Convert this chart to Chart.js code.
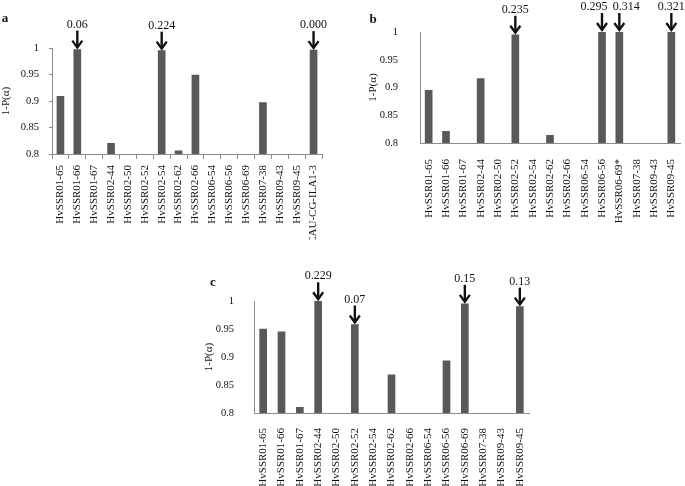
<!DOCTYPE html>
<html>
<head>
<meta charset="utf-8">
<script src="https://cdn.jsdelivr.net/npm/chart.js@4.4.0/dist/chart.umd.min.js"></script>
<style>
  html, body { margin: 0; padding: 0; background: #fff; overflow: hidden; }
  body { width: 685px; height: 486px; position: relative; }
  .panel { position: absolute; }
</style>
</head>
<body>
<div class="panel" style="left:0px;top:0px;width:335px;height:240px"><canvas id="chartA"></canvas></div>
<div class="panel" style="left:345px;top:0px;width:340px;height:240px"><canvas id="chartB"></canvas></div>
<div class="panel" style="left:180px;top:240px;width:360px;height:246px"><canvas id="chartC"></canvas></div>
<script>
// panel a
const labelsA = ['HvSSR01-65', 'HvSSR01-66', 'HvSSR01-67', 'HvSSR02-44', 'HvSSR02-50', 'HvSSR02-52',
  'HvSSR02-54', 'HvSSR02-62', 'HvSSR02-66', 'HvSSR06-54', 'HvSSR06-56', 'HvSSR06-69', 'HvSSR07-38',
  'HvSSR09-43', 'HvSSR09-45', 'CAU-CG-ILA1-3'];
const valuesA = [0.909, 0.997, null, 0.82, null, null, 0.995, 0.806, 0.949, null, null, null, 0.897, null, null, 0.996];
const arrowAtA = ['HvSSR01-66', 'HvSSR02-54', 'CAU-CG-ILA1-3'];
const arrowTextA = ['0.06', '0.224', '0.000'];

// panel b
const labelsB = ['HvSSR01-65', 'HvSSR01-66', 'HvSSR01-67', 'HvSSR02-44', 'HvSSR02-50', 'HvSSR02-52',
  'HvSSR02-54', 'HvSSR02-62', 'HvSSR02-66', 'HvSSR06-54', 'HvSSR06-56', 'HvSSR06-69*', 'HvSSR07-38',
  'HvSSR09-43', 'HvSSR09-45'];
const valuesB = [0.895, 0.821, null, 0.916, null, 0.995, null, 0.814, null, null, 1.0, 1.0, null, null, 1.0];
const arrowAtB = ['HvSSR02-52', 'HvSSR06-56', 'HvSSR06-69*', 'HvSSR09-45'];
const arrowTextB = ['0.235', '0.295', '0.314', '0.321'];

// panel c
const labelsC = ['HvSSR01-65', 'HvSSR01-66', 'HvSSR01-67', 'HvSSR02-44', 'HvSSR02-50', 'HvSSR02-52',
  'HvSSR02-54', 'HvSSR02-62', 'HvSSR02-66', 'HvSSR06-54', 'HvSSR06-56', 'HvSSR06-69', 'HvSSR07-38',
  'HvSSR09-43', 'HvSSR09-45'];
const valuesC = [0.95, 0.945, 0.81, 0.9995, null, 0.958, null, 0.868, null, null, 0.893, 0.995, null, null, 0.99];
const arrowAtC = ['HvSSR02-44', 'HvSSR02-52', 'HvSSR06-69', 'HvSSR09-45'];
const arrowTextC = ['0.229', '0.07', '0.15', '0.13'];

const yTicks = [0.8, 0.85, 0.9, 0.95, 1];

const SERIF = '"Liberation Serif", "Times New Roman", serif';
const BAR = '#595959';
const AXIS = '#8c8c8c';

// arrows with p-values above bars, plus the panel letter
const panelNotes = {
  id: 'panelNotes',
  afterDraw(chart, args, opts) {
    const ctx = chart.ctx;
    const meta = chart.getDatasetMeta(0);
    const labels = chart.data.labels;
    ctx.save();
    ctx.fillStyle = '#111';
    ctx.strokeStyle = '#111';
    ctx.textAlign = 'center';
    ctx.textBaseline = 'middle';
    ctx.font = 'bold 13px ' + SERIF;
    ctx.fillText(opts.letter, opts.letterX, opts.letterY);
    ctx.font = '12px ' + SERIF;
    opts.at.forEach((cat, i) => {
      const bar = meta.data[labels.indexOf(cat)];
      const x = bar.x;
      const tip = bar.y - 2;
      const top = tip - 17;
      ctx.lineWidth = 2.4;
      ctx.beginPath();
      ctx.moveTo(x, top);
      ctx.lineTo(x, tip - 1);
      ctx.stroke();
      ctx.lineWidth = 2.3;
      ctx.beginPath();
      ctx.moveTo(x - 5, tip - 7);
      ctx.lineTo(x, tip);
      ctx.lineTo(x + 5, tip - 7);
      ctx.stroke();
      const dx = opts.shift ? opts.shift[i] : 0;
      ctx.fillText(opts.text[i], x + dx, top - 6);
    });
    ctx.restore();
  }
};

function makeChart(id, labels, values, cfg) {
  return new Chart(document.getElementById(id), {
    type: 'bar',
    data: {
      labels: labels,
      datasets: [{
        data: values,
        backgroundColor: BAR,
        borderWidth: 0,
        barThickness: 7
      }]
    },
    options: {
      responsive: true,
      maintainAspectRatio: false,
      animation: false,
      layout: { padding: { left: 0, top: cfg.padTop, right: cfg.padRight, bottom: 0 } },
      plugins: {
        legend: { display: false },
        tooltip: { enabled: false },
        panelNotes: {
          letter: cfg.letter, letterX: cfg.letterX, letterY: cfg.letterY,
          at: cfg.at, text: cfg.text, shift: cfg.shift
        }
      },
      scales: {
        x: {
          offset: true,
          grid: { display: cfg.xTicks, offset: true, drawOnChartArea: false, tickLength: 5, color: AXIS },
          border: { display: true, color: AXIS, width: 1 },
          ticks: {
            autoSkip: false, minRotation: 90, maxRotation: 90, padding: cfg.xPad,
            color: '#111', font: { family: SERIF, size: 11 }
          },
          afterFit: (s) => { s.height = cfg.xHeight; s.paddingLeft = 0; s.paddingRight = 0; }
        },
        y: {
          min: 0.8, max: 1,
          beginAtZero: false,
          afterBuildTicks: (s) => { s.ticks = yTicks.map(v => ({ value: v })); },
          grid: { display: cfg.yTicks, drawOnChartArea: false, tickLength: 3, color: AXIS },
          border: { display: true, color: AXIS, width: 1 },
          ticks: {
            padding: cfg.yPad, color: '#111', font: { family: SERIF, size: 10.5 },
            callback: (v) => String(Number(v.toFixed(2)))
          },
          title: {
            display: true, text: '1-P(α)', color: '#111',
            font: { family: SERIF, size: 11 }, padding: { top: cfg.titlePad, bottom: 0 }
          },
          afterFit: (s) => { s.width = cfg.yWidth; s.paddingTop = 0; s.paddingBottom = 0; }
        }
      }
    },
    plugins: [panelNotes]
  });
}

makeChart('chartA', labelsA, valuesA, {
  padTop: 48, padRight: 13, xHeight: 86, yWidth: 52, xPad: 6, yPad: 10, titlePad: 0,
  xTicks: true, yTicks: true, letter: 'a', letterX: 5, letterY: 19, at: arrowAtA, text: arrowTextA
});
makeChart('chartB', labelsB, valuesB, {
  padTop: 32, padRight: 5, xHeight: 97, yWidth: 75, xPad: 11, yPad: 19, titlePad: 22,
  xTicks: false, yTicks: false, letter: 'b', letterX: 28, letterY: 20, at: arrowAtB, text: arrowTextB,
  shift: [0, -8, 7, 0]
});
makeChart('chartC', labelsC, valuesC, {
  padTop: 61, padRight: 11, xHeight: 73, yWidth: 74, xPad: 10, yPad: 17, titlePad: 23,
  xTicks: false, yTicks: false, letter: 'c', letterX: 33, letterY: 43, at: arrowAtC, text: arrowTextC
});
</script>
</body>
</html>
